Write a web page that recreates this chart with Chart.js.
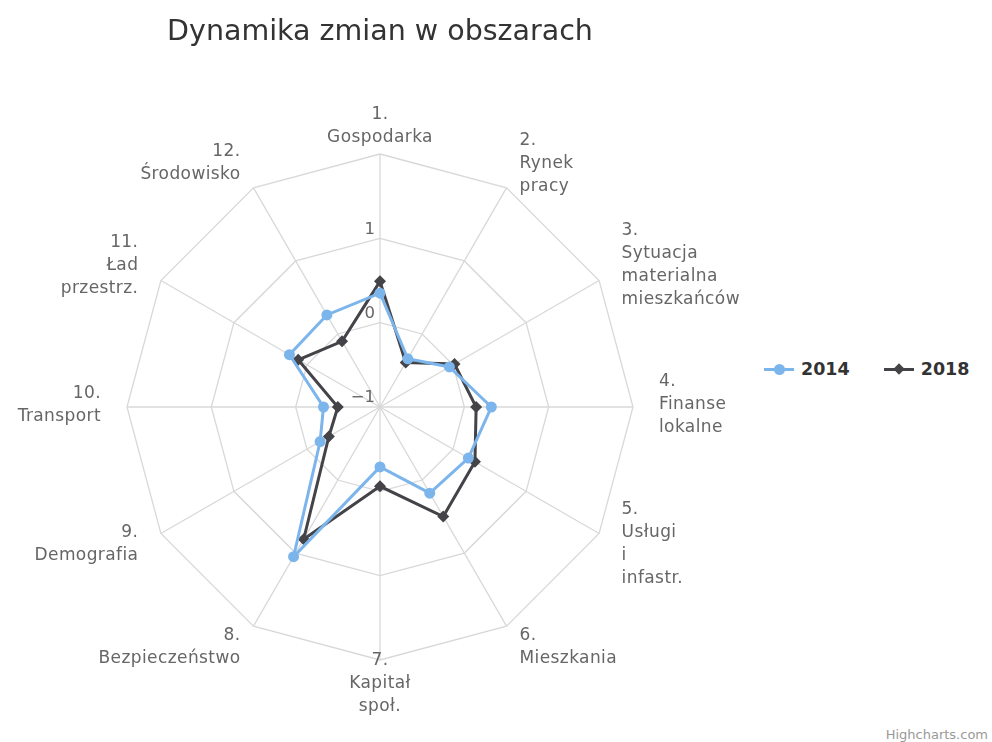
<!DOCTYPE html>
<html>
<head>
<meta charset="utf-8">
<script src="https://cdn.jsdelivr.net/npm/chart.js@4/dist/chart.umd.min.js"></script>
<style>
  body { margin: 0; background: #fff; font-family: "DejaVu Sans", sans-serif; overflow: hidden; }
  #wrap { position: relative; width: 992px; height: 742px; overflow: hidden; }
  #c { position: absolute; left: 0; top: 0; }
  .legend { position: absolute; top: 359px; left: 764px; display: flex; gap: 34px; font-weight: bold; font-size: 17.5px; color: #333; }
  .item { display: flex; align-items: center; }
  .sym { position: relative; width: 30px; height: 20px; margin-right: 7px; }
  .sym .ln { position: absolute; left: 0; right: 0; top: 9px; height: 3px; }
  .sym .dot { position: absolute; left: 10px; top: 5px; width: 11px; height: 11px; border-radius: 50%; }
  .sym .dia { position: absolute; left: 11px; top: 6px; width: 8px; height: 8px; transform: rotate(45deg); }
  .credit { position: absolute; right: 4px; bottom: 0px; font-size: 13px; color: #999; }
</style>
</head>
<body>
<div id="wrap">
  <canvas id="c" width="757" height="742"></canvas>
  <div class="legend">
    <div class="item"><div class="sym"><div class="ln" style="background:#7cb5ec"></div><div class="dot" style="background:#7cb5ec"></div></div>2014</div>
    <div class="item"><div class="sym"><div class="ln" style="background:#434348"></div><div class="dia" style="background:#434348"></div></div>2018</div>
  </div>
  <div class="credit">Highcharts.com</div>
</div>
<script>
const kategorie = [
  ['1.', 'Gospodarka'],
  ['2.', 'Rynek', 'pracy'],
  ['3.', 'Sytuacja', 'materialna', 'mieszkańców'],
  ['4.', 'Finanse', 'lokalne'],
  ['5.', 'Usługi', 'i', 'infastr.'],
  ['6.', 'Mieszkania'],
  ['7.', 'Kapitał', 'społ.'],
  ['8.', 'Bezpieczeństwo'],
  ['9.', 'Demografia'],
  ['10.', 'Transport'],
  ['11.', 'Ład', 'przestrz.'],
  ['12.', 'Środowisko']
];
const rok2014 = [0.35, -0.34, -0.05, 0.32, 0.21, 0.18, -0.29, 1.05, -0.18, -0.33, 0.24, 0.26];
const rok2018 = [0.49, -0.39, 0.02, 0.14, 0.30, 0.50, -0.06, 0.81, -0.30, -0.50, 0.12, -0.10];
const ticksOsi = [-1, 0, 1];

// etykiety osi i kategorii rysowane jak w Highcharts (wyśrodkowane przy wierzchołku)
const etykiety = {
  id: 'etykiety',
  afterDatasetsDraw(chart) {
    const s = chart.scales.r;
    const ctx = chart.ctx;
    ctx.save();
    ctx.fillStyle = '#666';
    ctx.font = '16.5px "DejaVu Sans"';
    ctx.textAlign = 'right';
    ctx.textBaseline = 'middle';
    ticksOsi.forEach(v => {
      const d = s.getDistanceFromCenterForValue(v);
      ctx.fillText(v < 0 ? '\u2212' + Math.abs(v) : String(v), s.xCenter - 5, s.yCenter - d - 9);
    });

    ctx.font = '17px "DejaVu Sans"';
    ctx.letterSpacing = '0.4px';
    const lh = 23;
    kategorie.forEach((lines, i) => {
      const p = s.getPointPosition(i, s.drawingArea + 26);
      const dx = p.x - s.xCenter;
      ctx.textAlign = Math.abs(dx) < 2 ? 'center' : (dx > 0 ? 'left' : 'right');
      const y0 = p.y - 2 - (lines.length - 1) * lh / 2;
      lines.forEach((t, k) => ctx.fillText(t, p.x, y0 + k * lh));
    });
    ctx.restore();
  }
};

new Chart(document.getElementById('c'), {
  type: 'radar',
  data: {
    labels: kategorie,
    datasets: [
      { label: '2014', data: rok2014, borderColor: '#7cb5ec', backgroundColor: '#7cb5ec', borderWidth: 3,
        pointStyle: 'circle', pointRadius: 5.5, pointBorderWidth: 0, fill: false, tension: 0 },
      { label: '2018', data: rok2018, borderColor: '#434348', backgroundColor: '#434348', borderWidth: 3,
        pointStyle: 'rectRot', pointRadius: 6, pointBorderWidth: 0, fill: false, tension: 0 }
    ]
  },
  options: {
    responsive: false,
    animation: false,
    layout: { padding: { left: 126, right: 123, top: 0, bottom: 81 } },
    plugins: {
      legend: { display: false },
      tooltip: { enabled: false },
      title: {
        display: true,
        text: 'Dynamika zmian w obszarach',
        color: '#333',
        font: { family: 'DejaVu Sans', size: 28.5, weight: 'normal' },
        padding: { top: 15, bottom: 104 }
      }
    },
    scales: {
      r: {
        min: -1, max: 2,
        ticks: { stepSize: 1, display: false },
        grid: { color: '#d8d8d8', lineWidth: 1.3, circular: false },
        angleLines: { color: '#d8d8d8', lineWidth: 1.3 },
        pointLabels: { display: false }
      }
    }
  },
  plugins: [etykiety]
});
</script>
</body>
</html>
